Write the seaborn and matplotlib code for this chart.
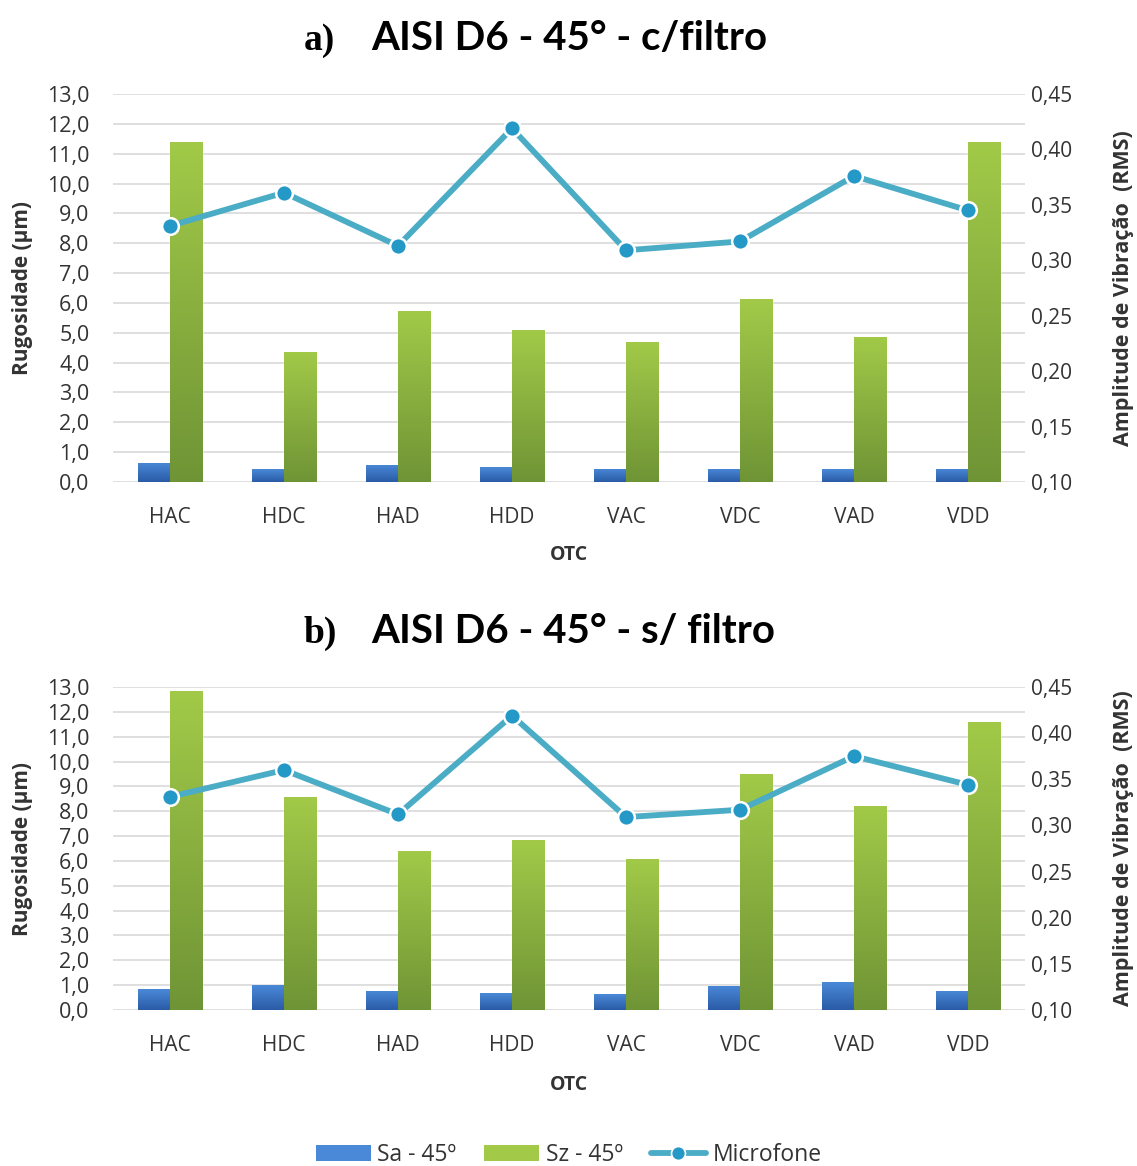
import numpy as np
import pandas as pd
import matplotlib
matplotlib.use("Agg")
import matplotlib.pyplot as plt
import matplotlib.colors as mcolors
from matplotlib.lines import Line2D
from matplotlib.patches import Patch
import seaborn as sns

# ---- data -------------------------------------------------------------
categorias = ["HAC", "HDC", "HAD", "HDD", "VAC", "VDC", "VAD", "VDD"]

sa_com_filtro = [0.64, 0.42, 0.58, 0.49, 0.45, 0.45, 0.42, 0.45]
sz_com_filtro = [11.38, 4.37, 5.74, 5.09, 4.68, 6.13, 4.86, 11.38]
mic_com_filtro = [0.331, 0.361, 0.313, 0.419, 0.309, 0.317, 0.376, 0.345]

sa_sem_filtro = [0.84, 1.00, 0.78, 0.67, 0.63, 0.97, 1.11, 0.78]
sz_sem_filtro = [12.84, 8.58, 6.41, 6.84, 6.07, 9.50, 8.20, 11.59]
mic_sem_filtro = [0.331, 0.360, 0.312, 0.419, 0.309, 0.317, 0.375, 0.344]

rug_ticks = np.arange(0, 13.01, 1.0)
vib_ticks = np.arange(0.10, 0.4501, 0.05)

series = ["Sa - 45º", "Sz - 45º"]
cor_sa = ("#4A89D8", "#2A5BA6")   # top, bottom
cor_sz = ("#A2CA48", "#6F9436")
cor_linha = "#4BACC6"
cor_marcador = "#2498C6"
cor_grade = "#D9D9D9"
cor_texto = "#333333"

sns.set_theme(style="white")
plt.rcParams["font.family"] = ["Open Sans", "DejaVu Sans"]
plt.rcParams["text.color"] = cor_texto
plt.rcParams["axes.labelcolor"] = cor_texto
plt.rcParams["xtick.color"] = cor_texto
plt.rcParams["ytick.color"] = cor_texto

W, H = 1137, 1166
fig = plt.figure(figsize=(W / 100, H / 100), dpi=100)


def fx(px):
    return px / W


def fy(py):
    return 1 - py / H


def gradiente(ax, patch, cores):
    x0, y0 = patch.get_x(), patch.get_y()
    w, h = patch.get_width(), patch.get_height()
    cmap = mcolors.LinearSegmentedColormap.from_list("g", [cores[1], cores[0]])
    grad = np.linspace(0, 1, 256).reshape(-1, 1)
    im = ax.imshow(grad, cmap=cmap, aspect="auto", origin="lower",
                   extent=(x0, x0 + w, y0, y0 + h), zorder=patch.get_zorder(),
                   interpolation="bicubic")
    im.set_clip_path(patch)
    patch.set_facecolor("none")


def painel(rect, sa, sz, mic, label_y):
    ax = fig.add_axes(rect)
    df = pd.DataFrame({
        "OTC": categorias * 2,
        "valor": list(sa) + list(sz),
        "serie": [series[0]] * len(categorias) + [series[1]] * len(categorias),
    })
    sns.barplot(data=df, x="OTC", y="valor", hue="serie", order=categorias,
                hue_order=series, palette=[cor_sa[1], cor_sz[1]],
                width=0.57, gap=0, saturation=1, legend=False, ax=ax,
                zorder=2)
    n = len(categorias)
    for i, p in enumerate(ax.patches):
        gradiente(ax, p, cor_sa if i < n else cor_sz)

    ax.set_xlim(-0.5, n - 0.5)
    ax.set_ylim(0, 13)
    ax.set_yticks(rug_ticks)
    ax.set_yticklabels([f"{v:.1f}".replace(".", ",") for v in rug_ticks])
    ax.yaxis.grid(True, color=cor_grade, linewidth=1.2, zorder=0)
    ax.set_axisbelow(True)
    for s in ax.spines.values():
        s.set_visible(False)
    ax.tick_params(axis="both", length=0, labelsize=15)
    ax.tick_params(axis="x", pad=18)
    ax.tick_params(axis="y", pad=17, labelsize=15.5)
    ax.set_xlabel("OTC", fontsize=14, fontweight="bold")
    ax.xaxis.set_label_coords(0.5, label_y)
    ax.set_ylabel("Rugosidade (µm)", fontsize=15, fontweight="bold")
    ax.yaxis.set_label_coords(-0.088, 0.5)

    ax2 = ax.twinx()
    sns.lineplot(x=np.arange(n), y=mic, ax=ax2, color=cor_linha, linewidth=4.2,
                 marker="o", markersize=12, markerfacecolor=cor_marcador,
                 markeredgecolor="white", markeredgewidth=1.8, zorder=5)
    ax2.set_xlim(-0.5, n - 0.5)
    ax2.set_ylim(0.10, 0.45)
    ax2.set_yticks(vib_ticks)
    ax2.set_yticklabels([f"{v:.2f}".replace(".", ",") for v in vib_ticks])
    for s in ax2.spines.values():
        s.set_visible(False)
    ax2.tick_params(axis="y", length=0, labelsize=15, pad=4)
    ax2.set_ylabel("Amplitude de Vibração  (RMS)", fontsize=15.5,
                   fontweight="bold")
    ax2.yaxis.set_label_coords(1.097, 0.5)
    ax2.grid(False)
    return ax, ax2


painel([fx(113), fy(482), fx(1025) - fx(113), fy(94) - fy(482)],
       sa_com_filtro, sz_com_filtro, mic_com_filtro, -0.163)
painel([fx(113), fy(1010), fx(1025) - fx(113), fy(687) - fy(1010)],
       sa_sem_filtro, sz_sem_filtro, mic_sem_filtro, -0.201)

# panel titles
for base, letra, texto in [(50, "a)", "AISI D6 - 45° - c/filtro"),
                           (643, "b)", "AISI D6 - 45° - s/ filtro")]:
    fig.text(fx(304), fy(base), letra, family="Liberation Serif",
             fontweight="bold", fontsize=27, color="black", va="baseline")
    fig.text(fx(371), fy(base), texto, family=["Lato", "DejaVu Sans"],
             fontweight="bold", fontsize=29, color="black", va="baseline")

handles = [
    Patch(facecolor=cor_sa[0], edgecolor="none"),
    Patch(facecolor=cor_sz[0], edgecolor="none"),
    Line2D([], [], color=cor_linha, linewidth=4.2, marker="o", markersize=10,
           markerfacecolor=cor_marcador, markeredgecolor="white",
           markeredgewidth=1.2),
]
fig.legend(handles, series + ["Microfone"], loc="center",
           bbox_to_anchor=(0.5, fy(1155)), ncol=3, frameon=False,
           fontsize=16.5, handlelength=2.4, handleheight=0.7,
           columnspacing=1.2, handletextpad=0.3)

fig.savefig("out.png", dpi=100, facecolor="white")
